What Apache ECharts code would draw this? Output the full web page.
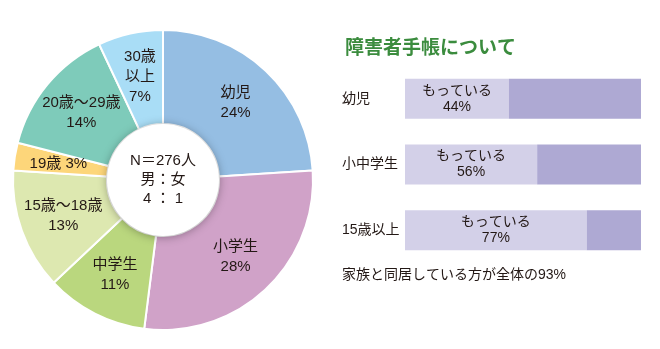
<!DOCTYPE html>
<html>
<head>
<meta charset="utf-8">
<script src="https://cdn.jsdelivr.net/npm/echarts@6/dist/echarts.min.js"></script>
<style>
  html, body { margin: 0; padding: 0; background: #fff; }
  #chart { width: 660px; height: 349px; }
</style>
</head>
<body>
<div id="chart"></div>
<script>
// Age breakdown of respondents (percent)
const ageNames = ['幼児', '小学生', '中学生', '15歳～18歳', '19歳', '20歳～29歳', '30歳以上'];
const ageLabels = ['幼児\n24%', '小学生\n28%', '中学生\n11%', '15歳～18歳\n13%', '19歳 3%', '20歳～29歳\n14%', '30歳\n以上\n7%'];
const agePercent = [24, 28, 11, 13, 3, 14, 7];
const ageColors = ['#95bee3', '#d0a2c8', '#bad77e', '#dde8b0', '#fdd67a', '#7ecbba', '#a9ddf6'];

// Disability certificate holders by group (percent)
const groups = ['幼児', '小中学生', '15歳以上'];
const holding = [44, 56, 77];
const notHolding = [56, 44, 23];

const centerText = 'N＝276人\n男：女\n4 ： 1';
const titleText = '障害者手帳について';
const noteText = '家族と同居している方が全体の93%';

const FONT = '"Liberation Sans", "Noto Sans CJK JP", sans-serif';
const INK = '#231815';

const chart = echarts.init(document.getElementById('chart'), null, { renderer: 'canvas' });

chart.setOption({
  animation: false,
  backgroundColor: '#ffffff',
  textStyle: { fontFamily: FONT, color: INK },
  title: {
    text: titleText,
    left: 340,
    top: 34,
    textStyle: { fontFamily: FONT, fontSize: 19, fontWeight: 'bold', color: '#3b8c3e' }
  },
  graphic: [{
    type: 'text',
    left: 342,
    top: 268,
    style: { text: noteText, fontFamily: FONT, fontSize: 14, fill: INK }
  }],
  grid: { left: 405, right: 19, top: 66, bottom: 86 },
  xAxis: { type: 'value', min: 0, max: 100, show: false },
  yAxis: {
    type: 'category',
    data: groups,
    inverse: true,
    axisLine: { show: false },
    axisTick: { show: false },
    axisLabel: { margin: 63, align: 'left', fontSize: 14, color: INK, fontFamily: FONT }
  },
  series: [
    {
      type: 'bar',
      stack: 'cert',
      barWidth: 40,
      data: holding,
      itemStyle: { color: '#d3d0e8' },
      label: {
        show: true,
        position: 'inside',
        formatter: p => 'もっている\n' + p.value + '%',
        fontSize: 14,
        lineHeight: 16,
        color: INK,
        fontFamily: FONT
      },
      z: 2
    },
    {
      type: 'bar',
      stack: 'cert',
      barWidth: 40,
      data: notHolding,
      itemStyle: { color: '#aea9d3' },
      z: 2
    },
    {
      type: 'pie',
      center: [163, 180],
      radius: [56, 150],
      startAngle: 90,
      clockwise: true,
      data: ageNames.map((n, i) => ({
        name: n,
        value: agePercent[i],
        itemStyle: { color: ageColors[i] },
        label: { formatter: ageLabels[i] }
      })),
      itemStyle: { borderColor: '#ffffff', borderWidth: 2 },
      label: {
        show: true,
        position: 'inside',
        fontSize: 15,
        lineHeight: 20,
        color: INK,
        fontFamily: FONT
      },
      labelLine: { show: false },
      emphasis: { disabled: true }
    },
    {
      type: 'pie',
      center: [163, 180],
      radius: [0, 56],
      silent: true,
      z: 5,
      data: [{ value: 1, name: 'center' }],
      itemStyle: {
        color: '#ffffff',
        shadowBlur: 10,
        shadowOffsetY: 1,
        shadowColor: 'rgba(0,0,0,0.35)'
      },
      label: {
        show: true,
        position: 'center',
        formatter: centerText,
        fontSize: 15,
        lineHeight: 19,
        color: INK,
        fontFamily: FONT
      },
      labelLine: { show: false },
      emphasis: { disabled: true }
    }
  ]
});
</script>
</body>
</html>
